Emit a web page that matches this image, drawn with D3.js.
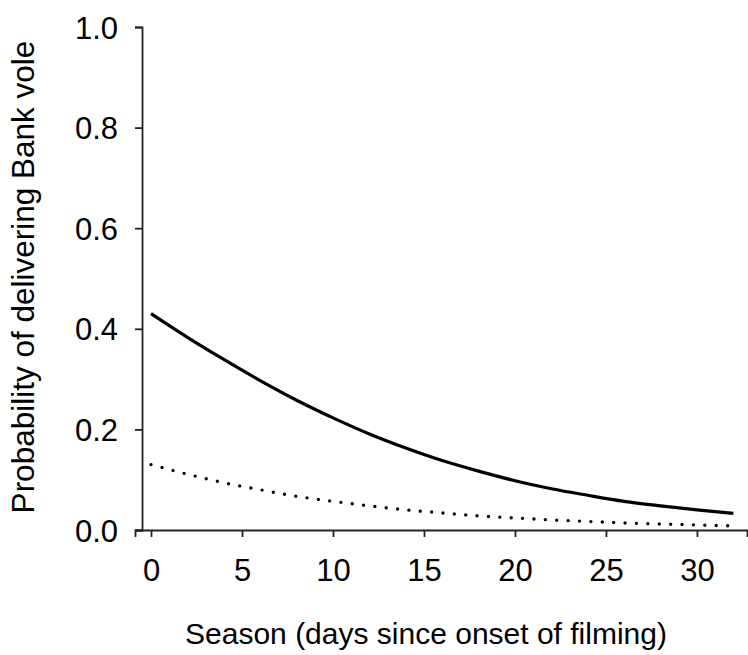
<!DOCTYPE html>
<html>
<head>
<meta charset="utf-8">
<script src="https://cdn.jsdelivr.net/npm/d3@7"></script>
<style>
  html, body { margin: 0; padding: 0; background: #fff; }
  svg { display: block; }
  text { font-family: "Liberation Sans", Arial, sans-serif; fill: #000; }
</style>
</head>
<body>
<svg id="chart" width="748" height="655"></svg>
<script>
// Data
const days = [0, 2, 4, 6, 8, 10, 12, 14, 16, 18, 20, 22, 24, 26, 28, 30, 32];
const solidSeries = [0.430, 0.383, 0.339, 0.297, 0.258, 0.223, 0.191, 0.163, 0.138, 0.117, 0.098, 0.082, 0.069, 0.057, 0.048, 0.040, 0.033];
const dottedSeries = [0.130, 0.111, 0.094, 0.080, 0.067, 0.057, 0.048, 0.040, 0.034, 0.028, 0.024, 0.020, 0.017, 0.014, 0.012, 0.010, 0.008];
const xTicks = [0, 5, 10, 15, 20, 25, 30];
const yTicks = [0, 0.2, 0.4, 0.6, 0.8, 1.0];
const xTitle = "Season (days since onset of filming)";
const yTitle = "Probability of delivering Bank vole";

const svg = d3.select("#chart");

const x = d3.scaleLinear().domain([-0.88, 32.75]).range([135, 747]);
const y = d3.scaleLinear().domain([0, 1]).range([530, 27]);

// Axes
const xAxis = d3.axisBottom(x).tickValues(xTicks).tickSizeOuter(0).tickSize(7).tickPadding(22).tickFormat(d3.format("d"));
const yAxis = d3.axisLeft(y).tickValues(yTicks).tickSizeOuter(0).tickSize(7).tickPadding(17).tickFormat(d3.format(".1f"));

const gx = svg.append("g").attr("transform", `translate(0,${y(0)})`).call(xAxis);
const gy = svg.append("g").attr("transform", `translate(${x(0) - 9},0)`).call(yAxis);

[gx, gy].forEach(g => {
  g.selectAll("path, line").attr("stroke", "#222").attr("stroke-width", 1.8);
  g.selectAll("text").attr("font-size", 31).attr("font-family", '"Liberation Sans", Arial, sans-serif').attr("fill", "#000");
});
gy.selectAll(".tick text").attr("dy", "0.36em");

// Lines
const line = d3.line()
  .x((d, i) => x(days[i]))
  .y(d => y(d))
  .curve(d3.curveMonotoneX);

svg.append("path")
  .datum(solidSeries)
  .attr("d", line)
  .attr("fill", "none")
  .attr("stroke", "#000")
  .attr("stroke-width", 3.2);

svg.append("path")
  .datum(dottedSeries)
  .attr("d", line)
  .attr("fill", "none")
  .attr("stroke", "#000")
  .attr("stroke-width", 3.4)
  .attr("stroke-linecap", "round")
  .attr("stroke-dasharray", "0 11.4");

// Axis titles
svg.append("text")
  .attr("x", 426)
  .attr("y", 644)
  .attr("text-anchor", "middle")
  .attr("font-size", 30)
  .text(xTitle);

svg.append("text")
  .attr("transform", "translate(34,277) rotate(-90)")
  .attr("text-anchor", "middle")
  .attr("font-size", 31.5)
  .text(yTitle);
</script>
</body>
</html>
